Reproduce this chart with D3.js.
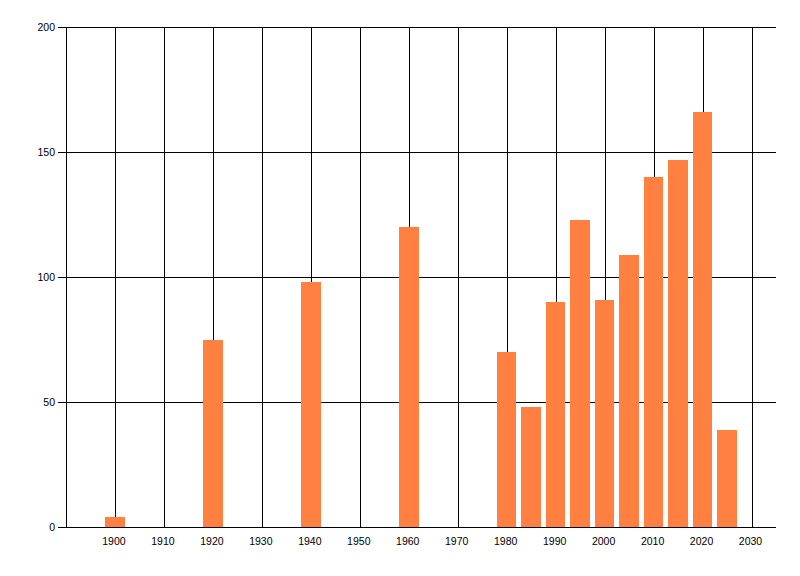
<!DOCTYPE html>
<html>
<head>
  <meta charset="UTF-8">
  <title>Bars by year</title>
  <script src="https://d3js.org/d3.v7.min.js"></script>
  <style>
    body {
      margin: 0;
      background: #fff;
    }
    svg text {
      font-family: "Liberation Sans", Arial, sans-serif;
      font-size: 10.5px;
      fill: #000;
    }
  </style>
</head>
<body>
  <svg width="800" height="576"></svg>
  <script>
    const years = [1900, 1920, 1940, 1960, 1980, 1985, 1990, 1995, 2000, 2005, 2010, 2015, 2020, 2025];
    const values = [4, 75, 98, 120, 70, 48, 90, 123, 91, 109, 140, 147, 166, 39];
    const xTicks = [1900, 1910, 1920, 1930, 1940, 1950, 1960, 1970, 1980, 1990, 2000, 2010, 2020, 2030];
    const yTicks = [0, 50, 100, 150, 200];
    const barYears = 4;

    const svg = d3.select("svg");
    const plotLeft = 66, plotRight = 776, plotTop = 27, plotBottom = 527;

    const x = d3.scaleLinear().domain([1890, 2035]).range([plotLeft, plotRight]);
    const y = d3.scaleLinear().domain([0, 200]).range([plotBottom, plotTop]);
    const px = v => Math.round(v) + 0.5;

    // vertical grid lines
    svg.append("g")
      .selectAll("line")
      .data(xTicks)
      .join("line")
      .attr("x1", d => px(x(d))).attr("x2", d => px(x(d)))
      .attr("y1", plotTop).attr("y2", plotBottom)
      .attr("stroke", "#000")
      .attr("shape-rendering", "crispEdges");

    // horizontal grid lines (with ticks to the left)
    svg.append("g")
      .selectAll("line")
      .data(yTicks)
      .join("line")
      .attr("x1", plotLeft - 8).attr("x2", plotRight)
      .attr("y1", d => px(y(d))).attr("y2", d => px(y(d)))
      .attr("stroke", "#000")
      .attr("shape-rendering", "crispEdges");

    // bars
    svg.append("g")
      .selectAll("rect")
      .data(years.map((yr, i) => ({ yr, v: values[i] })))
      .join("rect")
      .attr("x", d => x(d.yr - barYears / 2))
      .attr("width", d => x(d.yr + barYears / 2) - x(d.yr - barYears / 2))
      .attr("y", d => y(d.v))
      .attr("height", d => y(0) - y(d.v))
      .attr("fill", "#ff8040")
      .attr("shape-rendering", "crispEdges");

    // axis lines
    svg.append("line")
      .attr("x1", px(plotLeft)).attr("x2", px(plotLeft))
      .attr("y1", plotTop).attr("y2", plotBottom)
      .attr("stroke", "#000")
      .attr("shape-rendering", "crispEdges");
    svg.append("line")
      .attr("x1", plotLeft - 8).attr("x2", plotRight)
      .attr("y1", px(plotBottom)).attr("y2", px(plotBottom))
      .attr("stroke", "#000")
      .attr("shape-rendering", "crispEdges");

    // y labels
    svg.append("g")
      .selectAll("text")
      .data(yTicks)
      .join("text")
      .attr("x", plotLeft - 11)
      .attr("y", d => y(d))
      .attr("dy", "0.35em")
      .attr("text-anchor", "end")
      .text(d => d);

    // x labels
    svg.append("g")
      .selectAll("text")
      .data(xTicks)
      .join("text")
      .attr("x", d => x(d) - 1)
      .attr("y", plotBottom + 14)
      .attr("dy", "0.35em")
      .attr("text-anchor", "middle")
      .text(d => d);
  </script>
</body>
</html>
